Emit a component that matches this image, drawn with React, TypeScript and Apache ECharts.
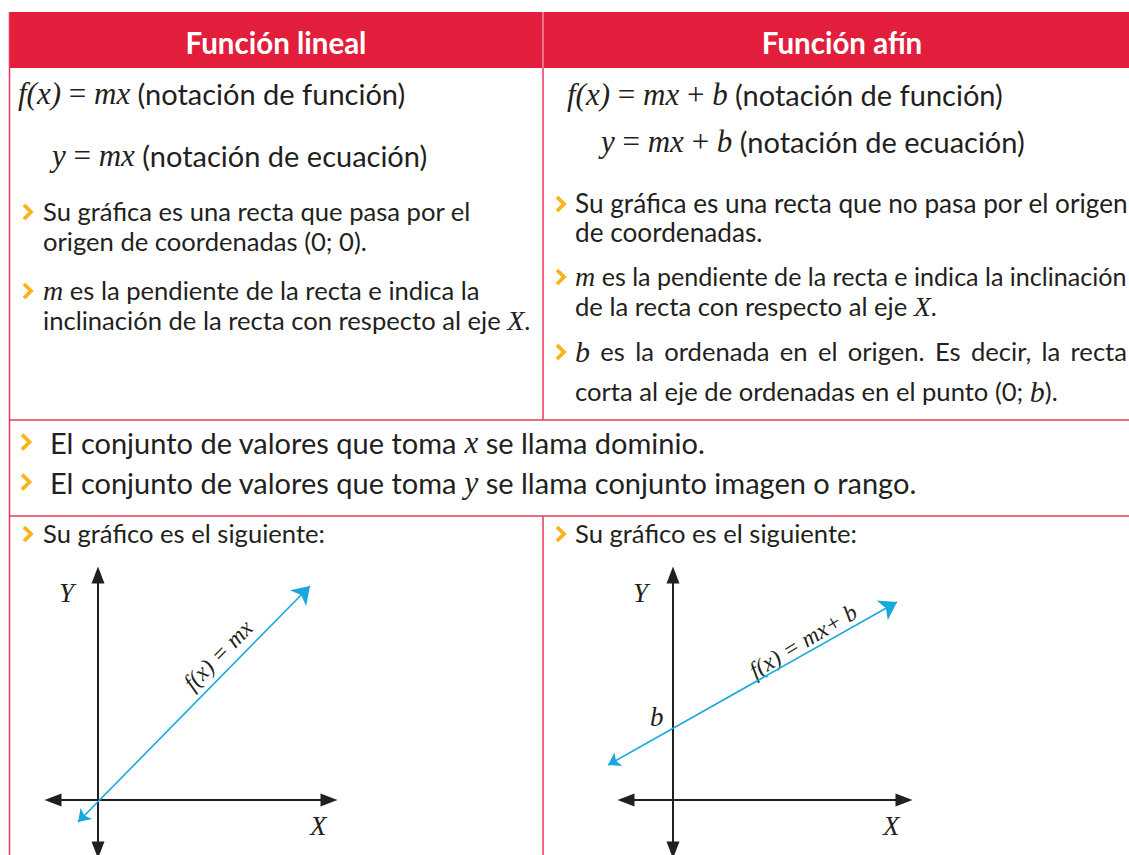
import React, { useEffect, useRef } from "react";
import * as echarts from "echarts";

// ---------- content ----------
const HEADERS = ["Función lineal", "Función afín"];
const LINEAR_NOTATION = [
  "{m|f(x)}{o| = }{m|mx} (notación de función)",
  "{m|y}{o| = }{m|mx} (notación de ecuación)",
];
const AFFINE_NOTATION = [
  "{m|f(x)}{o| = }{m|mx}{o| + }{m|b} (notación de función)",
  "{m|y}{o| = }{m|mx}{o| + }{m|b} (notación de ecuación)",
];
const LINEAR_BULLETS = [
  ["Su gráfica es una recta que pasa por el", "origen de coordenadas (0; 0)."],
  ["{m|m} es la pendiente de la recta e indica la", "inclinación de la recta con respecto al eje {m|X}."],
];
const AFFINE_BULLETS = [
  ["Su gráfica es una recta que no pasa por el origen", "de coordenadas."],
  ["{m|m} es la pendiente de la recta e indica la inclinación", "de la recta con respecto al eje {m|X}."],
];
const AFFINE_B_WORDS = ["b", "es", "la", "ordenada", "en", "el", "origen.", "Es", "decir,", "la", "recta"];
const AFFINE_B_LINE2 = "corta al eje de ordenadas en el punto (0; {m|b}).";
const SHARED_BULLETS = [
  "El conjunto de valores que toma {m|x} se llama dominio.",
  "El conjunto de valores que toma {m|y} se llama conjunto imagen o rango.",
];
const GRAPH_INTRO = "Su gráfico es el siguiente:";
const LABEL_LINEAR = "f(x) = mx";
const LABEL_AFFINE = "f(x) = mx+ b";

// graph data (abstract units)
const X_RANGE_LINEAR = [-1.8, 9.24];
const X_RANGE_AFFINE = [-1.88, 9.24];
const Y_RANGE = [-2, 9];
const LINE_LINEAR = [[-0.8, -0.88], [8.48, 8.56]];
const LINE_AFFINE = [[-2.6, 1.4], [8.96, 7.92]];

// ---------- style ----------
const HEADER_RED = "#e31d3c";
const LINE_RED = "#e8385a";
const GOLD = "#f9b31b";
const BLUE = "#17a8dc";
const INK = "#231f20";
const SANS = 'Lato, "Open Sans", sans-serif';
const SERIF = '"Liberation Serif", "DejaVu Serif", serif';

function rich(size: number) {
  return {
    m: { fontFamily: SERIF, fontStyle: "italic", fontSize: size, fill: INK },
    o: { fontFamily: SERIF, fontSize: size, fill: INK },
  };
}

function txt(x: number, y: number, text: string, size: number, mathSize: number, extra: any = {}) {
  return {
    type: "text",
    x,
    y,
    silent: true,
    style: {
      text,
      fontSize: size,
      fontFamily: SANS,
      fill: INK,
      verticalAlign: "middle",
      align: "left",
      rich: rich(mathSize),
      ...extra,
    },
  };
}

function chevron(x: number, cy: number, h: number) {
  return {
    type: "polyline",
    silent: true,
    shape: { points: [[x, cy - h / 2], [x + h / 2, cy], [x, cy + h / 2]] },
    style: { stroke: GOLD, lineWidth: 3.8, fill: null, lineJoin: "miter" },
  };
}

function vline(x: number, y1: number, y2: number, color = LINE_RED, w = 1.5) {
  return { type: "line", silent: true, shape: { x1: x, y1, x2: x, y2 }, style: { stroke: color, lineWidth: w } };
}
function hline(y: number, x1: number, x2: number) {
  return { type: "line", silent: true, shape: { x1, y1: y, x2, y2: y }, style: { stroke: LINE_RED, lineWidth: 1.5 } };
}

function justifiedWords(words: string[], x0: number, x1: number, y: number, size: number, mathSize: number) {
  const ctx = document.createElement("canvas").getContext("2d")!;
  const widths = words.map((w, i) => {
    ctx.font = i === 0 ? `italic ${mathSize}px "Liberation Serif"` : `${size}px Lato`;
    return ctx.measureText(w).width;
  });
  const total = widths.reduce((a, b) => a + b, 0);
  const gap = (x1 - x0 - total) / (words.length - 1);
  const out: any[] = [];
  let x = x0;
  words.forEach((w, i) => {
    out.push(txt(x, y, i === 0 ? `{m|${w}}` : w, size, mathSize));
    x += widths[i] + gap;
  });
  return out;
}

export default function App() {
  const ref = useRef<HTMLDivElement>(null);
  useEffect(() => {
    if (!ref.current) return;
    const chart = echarts.init(ref.current, null, { renderer: "svg" });
    const B = 25.6; // bullet font size
    const BM = 28;
    const F = 29; // formula font size
    const FM = 31;

    const graphic: any[] = [
      { type: "rect", silent: true, shape: { x: 9, y: 12, width: 1130, height: 56 }, style: { fill: HEADER_RED } },
      vline(543, 12, 68, "rgba(255,255,255,0.75)", 1),
      {
        type: "text", x: 276, y: 42, silent: true,
        style: { text: HEADERS[0], fontSize: 29.5, fontWeight: "bold", fontFamily: SANS, fill: "#fff", align: "center", verticalAlign: "middle" },
      },
      {
        type: "text", x: 842, y: 42, silent: true,
        style: { text: HEADERS[1], fontSize: 29.5, fontWeight: "bold", fontFamily: SANS, fill: "#fff", align: "center", verticalAlign: "middle" },
      },
      vline(9.5, 12, 855),
      vline(543, 68, 420),
      vline(543, 516, 855),
      hline(420, 9, 1129),
      hline(516, 9, 1129),

      // linear column
      txt(18, 93, LINEAR_NOTATION[0], F, FM),
      txt(52, 155, LINEAR_NOTATION[1], F, FM),
      chevron(24, 212, 14),
      txt(43, 211, LINEAR_BULLETS[0][0], B, BM),
      txt(43, 241, LINEAR_BULLETS[0][1], B, BM),
      chevron(24, 291, 14),
      txt(43, 290, LINEAR_BULLETS[1][0], B, BM),
      txt(43, 320, LINEAR_BULLETS[1][1], B, BM),

      // affine column
      txt(567, 94, AFFINE_NOTATION[0], F, FM),
      txt(601, 141, AFFINE_NOTATION[1], F, FM),
      chevron(557, 204, 14),
      txt(575, 203, AFFINE_BULLETS[0][0], 26.2, BM),
      txt(575, 232, AFFINE_BULLETS[0][1], 26.2, BM),
      chevron(557, 277, 14),
      txt(575, 276, AFFINE_BULLETS[1][0], 25.1, BM),
      txt(575, 306, AFFINE_BULLETS[1][1], B, BM),
      chevron(557, 352, 14),
      ...justifiedWords(AFFINE_B_WORDS, 575, 1127, 351, B, BM + 2),
      txt(575, 391, AFFINE_B_LINE2, B, BM + 2),

      // shared
      chevron(22, 442, 15),
      txt(50, 442, SHARED_BULLETS[0], F, FM),
      chevron(22, 482, 15),
      txt(50, 482, SHARED_BULLETS[1], F, FM),

      // graph intros
      chevron(24, 534, 14),
      txt(43, 533, GRAPH_INTRO, B, BM),
      chevron(557, 534, 14),
      txt(575, 533, GRAPH_INTRO, B, BM),

      // graph labels
      txt(59, 593, "{m|Y}", 27, 27),
      txt(310, 826, "{m|X}", 27, 27),
      txt(633, 593, "{m|Y}", 27, 27),
      txt(883, 826, "{m|X}", 27, 27),
      txt(650, 717, "{m|b}", 27, 27),
      {
        type: "text", x: 218, y: 655, rotation: (45.5 * Math.PI) / 180, silent: true,
        style: { text: LABEL_LINEAR, fontSize: 23.5, fontFamily: SERIF, fontStyle: "italic", fill: INK, align: "center", verticalAlign: "middle" },
      },
      {
        type: "text", x: 803, y: 641, rotation: (31 * Math.PI) / 180, silent: true,
        style: { text: LABEL_AFFINE, fontSize: 23.5, fontFamily: SERIF, fontStyle: "italic", fill: INK, align: "center", verticalAlign: "middle" },
      },
    ];

    const axisCommon = {
      type: "value",
      axisLine: {
        show: true,
        onZero: true,
        symbol: ["triangle", "triangle"],
        symbolSize: [13, 17],
        lineStyle: { color: INK, width: 2 },
      },
      axisTick: { show: false },
      axisLabel: { show: false },
      splitLine: { show: false },
    };

    const linesCommon = {
      type: "lines",
      coordinateSystem: "cartesian2d",
      symbol: ["arrow", "arrow"],
      symbolSize: [12, 17],
      lineStyle: { color: BLUE, width: 1.6, opacity: 1, curveness: 0 },
      clip: false,
      silent: true,
    };

    chart.setOption({
      animation: false,
      grid: [
        { left: 53, top: 575, width: 276, height: 275 },
        { left: 626, top: 575, width: 278, height: 275 },
      ],
      xAxis: [
        { ...axisCommon, gridIndex: 0, min: X_RANGE_LINEAR[0], max: X_RANGE_LINEAR[1] },
        { ...axisCommon, gridIndex: 1, min: X_RANGE_AFFINE[0], max: X_RANGE_AFFINE[1] },
      ],
      yAxis: [
        { ...axisCommon, gridIndex: 0, min: Y_RANGE[0], max: Y_RANGE[1] },
        { ...axisCommon, gridIndex: 1, min: Y_RANGE[0], max: Y_RANGE[1] },
      ],
      series: [
        { ...linesCommon, xAxisIndex: 0, yAxisIndex: 0, data: [{ coords: LINE_LINEAR }] },
        { ...linesCommon, xAxisIndex: 1, yAxisIndex: 1, data: [{ coords: LINE_AFFINE }] },
      ],
      graphic,
    });
    return () => chart.dispose();
  }, []);
  return (
    <div
      ref={ref}
      style={{ position: "fixed", left: 0, top: 0, width: 1129, height: 855, background: "#fff" }}
    />
  );
}
